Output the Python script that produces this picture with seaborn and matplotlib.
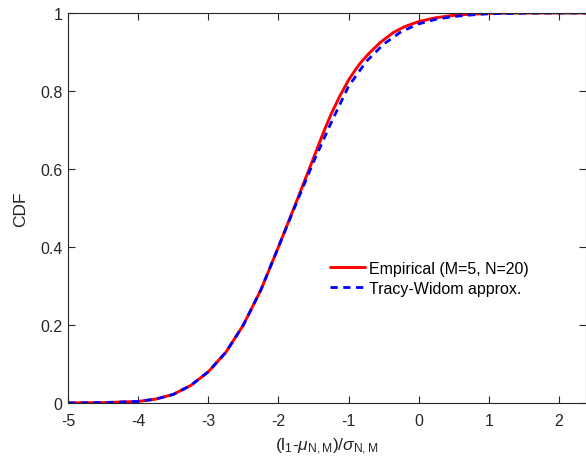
import numpy as np
import pandas as pd
import matplotlib
matplotlib.use("Agg")
import matplotlib.pyplot as plt
import seaborn as sns

# --- data ---
tw_x = [-5.0, -4.5, -4.0, -3.75, -3.5, -3.25, -3.0, -2.75, -2.5, -2.25, -2.0,
        -1.75, -1.5, -1.25, -1.0, -0.75, -0.5, -0.25, 0.0, 0.25, 0.5, 0.75,
        1.0, 1.5, 2.0, 2.4]
tw_cdf = [0.0002, 0.001, 0.004, 0.010, 0.022, 0.045, 0.080, 0.130, 0.200, 0.290,
          0.400, 0.510, 0.618, 0.718, 0.812, 0.875, 0.920, 0.952, 0.972, 0.984,
          0.991, 0.995, 0.998, 0.9995, 1.0, 1.0]

emp_x = [-5.0, -4.5, -4.0, -3.75, -3.5, -3.25, -3.0, -2.75, -2.5, -2.25, -2.0,
         -1.75, -1.5, -1.36, -1.25, -1.13, -1.0, -0.9, -0.83, -0.7, -0.55, -0.36,
         -0.2, 0.0, 0.25, 0.5, 0.75, 1.0, 1.5, 2.0, 2.4]
emp_cdf = [0.0002, 0.001, 0.004, 0.010, 0.022, 0.045, 0.080, 0.130, 0.200, 0.290,
           0.400, 0.513, 0.628, 0.693, 0.740, 0.785, 0.828, 0.855, 0.872, 0.898,
           0.924, 0.950, 0.965, 0.978, 0.988, 0.994, 0.997, 0.999, 1.0, 1.0, 1.0]

x_ticks = [-5, -4, -3, -2, -1, 0, 1, 2]
y_ticks = [0, 0.2, 0.4, 0.6, 0.8, 1]
y_tick_labels = ["0", "0.2", "0.4", "0.6", "0.8", "1"]

emp_label = "Empirical (M=5, N=20)"
tw_label = "Tracy-Widom approx."

sns.set_style("white")
plt.rcParams['font.family'] = ['Liberation Sans', 'DejaVu Sans']
plt.rcParams['mathtext.fontset'] = 'custom'
plt.rcParams['mathtext.rm'] = 'Liberation Sans'
plt.rcParams['mathtext.it'] = 'Liberation Sans:italic'

fig = plt.figure(figsize=(5.86, 4.64), dpi=100)
ax = fig.add_axes([68.1 / 586, 60 / 464, 517.4 / 586, 390 / 464])

df_emp = pd.DataFrame({"x": emp_x, "cdf": emp_cdf})
df_tw = pd.DataFrame({"x": tw_x, "cdf": tw_cdf})

sns.lineplot(data=df_emp, x="x", y="cdf", ax=ax, color=(1, 0, 0), lw=2.1,
             label=emp_label)
sns.lineplot(data=df_tw, x="x", y="cdf", ax=ax, color=(0, 0, 1), lw=2.0,
             label=tw_label)
ax.lines[1].set_dashes([2.6, 2.0])

ax.set_xlim(-5, 2.38)
ax.set_ylim(0, 1)
ax.set_xticks(x_ticks)
ax.set_xticklabels([str(t) for t in x_ticks])
ax.set_yticks(y_ticks)
ax.set_yticklabels(y_tick_labels)

axcol = (0.15, 0.15, 0.15)
for s in ax.spines.values():
    s.set_visible(True)
    s.set_color(axcol)
    s.set_linewidth(0.8)
ax.tick_params(direction='in', length=5, width=0.8, colors=axcol,
               labelsize=11.5, top=True, right=True, bottom=True, left=True,
               labelcolor=axcol)
ax.tick_params(axis='x', pad=7)
ax.tick_params(axis='y', pad=4)

ax.set_xlabel(r'(l$_1$-$\mu_{\rm N,M}$)/$\sigma_{\rm N,M}$', fontsize=12.5,
              color=axcol, labelpad=6)
ax.set_ylabel('CDF', fontsize=12.5, color=axcol, labelpad=9)

leg = ax.legend(loc='center left', bbox_to_anchor=(0.478, 0.32), frameon=False,
                fontsize=11.5, handlelength=2.2, handletextpad=0.25,
                labelspacing=0.3)
leg.get_lines()[1].set_dashes([2.6, 2.0])
for t in leg.get_texts():
    t.set_color('black')

fig.savefig("out.png", dpi=100)
